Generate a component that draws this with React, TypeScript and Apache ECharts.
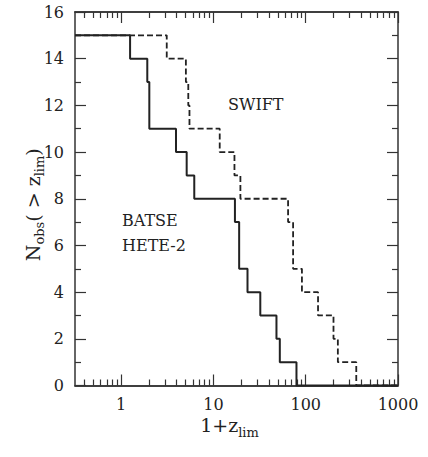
import React, { useEffect, useRef } from 'react';
import * as echarts from 'echarts';

// ---- data ----
const X_MIN = Math.pow(10, -0.5);
const X_MAX = 1000;
const Y_MIN = 0;
const Y_MAX = 16;
const Y_INTERVAL = 2;
const majorXTicks = [1, 10, 100, 1000];
const minorMultipliers = [2, 3, 4, 5, 6, 7, 8, 9];
const minorDecades = [-1, 0, 1, 2];

const startCount = 15;
// BATSE / HETE-2 (solid): 1+z where the count drops, and count after the drop
const batseZ = [1.25, 1.92, 2.02, 3.93, 5.13, 6.2, 17.1, 19.0, 23.4, 32.2, 48.2, 52.4, 79.4];
const batseN = [14, 13, 11, 10, 9, 8, 7, 5, 4, 3, 2, 1, 0];
// SWIFT (dashed)
const swiftZ = [3.12, 5.03, 5.34, 5.5, 11.7, 16.9, 19.6, 64.4, 73, 91, 136, 200, 223, 353];
const swiftN = [14, 13, 12, 11, 10, 9, 8, 7, 5, 4, 3, 2, 1, 0];

const FONT = 'DejaVu Serif';
const INK = '#222';
const FRAME = '#333';

const minorXTicks: number[] = [];
minorDecades.forEach((d) =>
  minorMultipliers.forEach((m) => {
    const v = Number((m * Math.pow(10, d)).toPrecision(6));
    if (v >= X_MIN && v <= X_MAX) minorXTicks.push(v);
  })
);

function stepData(z: number[], n: number[]) {
  const pts: number[][] = [[X_MIN, startCount]];
  z.forEach((v, i) => pts.push([v, n[i]]));
  pts.push([X_MAX, 0]);
  return pts;
}

const xAxisDef = (position: string, ticks: number[], len: number, withLabels: boolean, extra: any = {}) => ({
  type: 'log',
  logBase: 10,
  min: X_MIN,
  max: X_MAX,
  position,
  axisLine: { show: true, onZero: false, lineStyle: { color: FRAME, width: 1.5 } },
  axisTick: { show: true, inside: true, length: len, customValues: ticks, lineStyle: { color: FRAME, width: 1.2 } },
  axisLabel: withLabels
    ? {
        show: true,
        customValues: majorXTicks,
        margin: 11,
        fontFamily: FONT,
        fontSize: 16,
        color: INK,
        formatter: (v: number) => String(Math.round(v)),
      }
    : { show: false },
  splitLine: { show: false },
  minorTick: { show: false },
  minorSplitLine: { show: false },
  ...extra,
});

const yAxisDef = (position: string, withLabels: boolean, extra: any = {}) => ({
  type: 'value',
  min: Y_MIN,
  max: Y_MAX,
  interval: Y_INTERVAL,
  position,
  axisLine: { show: true, onZero: false, lineStyle: { color: FRAME, width: 1.5 } },
  axisTick: { show: true, inside: true, length: 11, lineStyle: { color: FRAME, width: 1.2 } },
  minorTick: { show: true, splitNumber: 2, length: 6, lineStyle: { color: FRAME, width: 1.2 } },
  axisLabel: withLabels
    ? { show: true, margin: 11, fontFamily: FONT, fontSize: 16, color: INK }
    : { show: false },
  splitLine: { show: false },
  ...extra,
});

const titleRich = {
  m: { fontFamily: FONT, fontSize: 19, lineHeight: 19, verticalAlign: 'top', color: INK },
  s: { fontFamily: FONT, fontSize: 13, lineHeight: 23, verticalAlign: 'bottom', color: INK },
};

export default function App() {
  const ref = useRef<HTMLDivElement>(null);
  useEffect(() => {
    if (!ref.current) return;
    const chart = echarts.init(ref.current, undefined, { renderer: 'svg' });
    chart.setOption({
      animation: false,
      backgroundColor: '#fff',
      grid: { left: 75, top: 12, width: 323, height: 373.5, containLabel: false },
      xAxis: [
        xAxisDef('bottom', majorXTicks, 11, true, {
          name: '{m|1+z}{s|lim}',
          nameLocation: 'middle',
          nameGap: 30,
          nameMoveOverlap: false,
          nameTextStyle: { rich: titleRich, padding: [0, 14, 0, 0] },
        }),
        xAxisDef('bottom', minorXTicks, 6, false),
        xAxisDef('top', majorXTicks, 11, false),
        xAxisDef('top', minorXTicks, 6, false),
      ],
      yAxis: [
        yAxisDef('left', true, {
          name: '{m|N}{s|obs}{m|( > z}{s|lim}{m|)}',
          nameLocation: 'middle',
          nameGap: 29,
          nameMoveOverlap: false,
          nameTextStyle: { rich: titleRich, padding: [0, 12, 0, 0] },
        }),
        yAxisDef('right', false),
      ],
      series: [
        {
          name: 'BATSE HETE-2',
          type: 'line',
          step: 'end',
          xAxisIndex: 0,
          yAxisIndex: 0,
          data: stepData(batseZ, batseN),
          showSymbol: false,
          symbol: 'none',
          clip: false,
          lineStyle: { color: INK, width: 2 },
          z: 3,
        },
        {
          name: 'SWIFT',
          type: 'line',
          step: 'end',
          xAxisIndex: 0,
          yAxisIndex: 0,
          data: stepData(swiftZ, swiftN),
          showSymbol: false,
          symbol: 'none',
          clip: false,
          lineStyle: { color: INK, width: 1.8, type: [6, 3] },
          z: 2,
        },
      ],
      graphic: [
        { type: 'text', x: 228, y: 104, style: { text: 'SWIFT', fontFamily: FONT, fontSize: 16, fill: INK, verticalAlign: 'middle' } },
        { type: 'text', x: 122, y: 220, style: { text: 'BATSE', fontFamily: FONT, fontSize: 16, fill: INK, verticalAlign: 'middle' } },
        { type: 'text', x: 122, y: 245, style: { text: 'HETE-2', fontFamily: FONT, fontSize: 16, fill: INK, verticalAlign: 'middle' } },
      ],
    });
    return () => chart.dispose();
  }, []);
  return <div ref={ref} style={{ position: 'fixed', left: 0, top: 0, width: 428, height: 457 }} />;
}
